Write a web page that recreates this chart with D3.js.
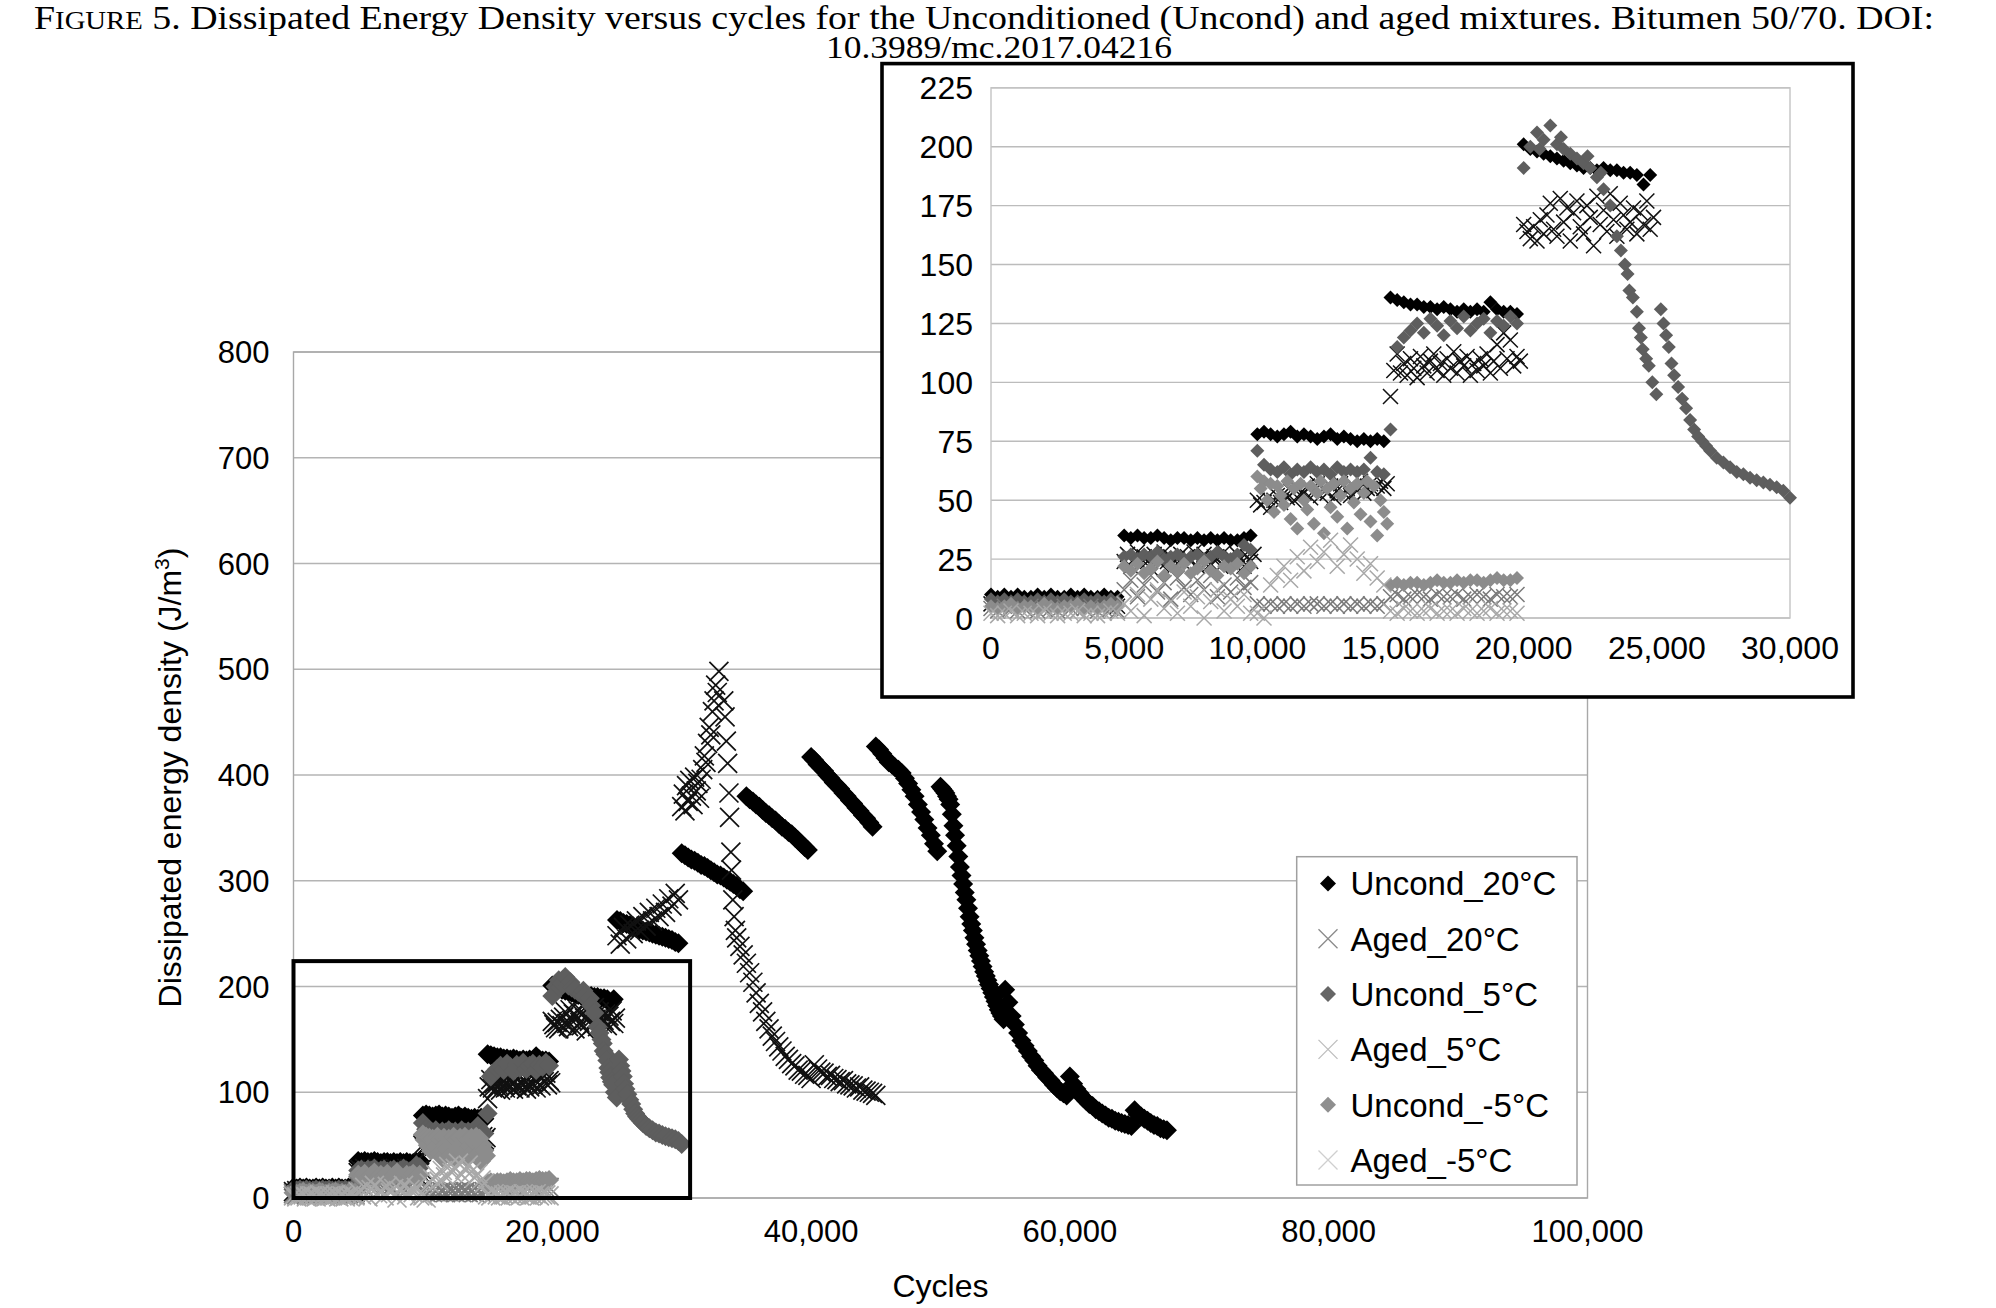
<!DOCTYPE html>
<html><head><meta charset="utf-8">
<script src="https://cdn.jsdelivr.net/npm/d3@7"></script>
<style>html,body{margin:0;padding:0;background:#fff;}svg{display:block;}</style>
</head><body>
<svg id="c" width="1996" height="1308"></svg>
<script>
// ================= DATA =================
const seriesNames = ["Uncond_20°C","Aged_20°C","Uncond_5°C","Aged_5°C","Uncond_-5°C","Aged_-5°C"];
const seriesMarkers = ["diamond","x","diamond","x","diamond","x"];
const mainXTicks = [0,20000,40000,60000,80000,100000];
const mainYTicks = [0,100,200,300,400,500,600,700,800];
const insetXTicks = [0,5000,10000,15000,20000,25000,30000];
const insetYTicks = [0,25,50,75,100,125,150,175,200,225];
const mainXDomain = [0,100000], mainYDomain = [0,800];
const insetXDomain = [0,30000], insetYDomain = [0,225];
const zoomBox = [[0,0],[30650,224]];
const titleLine1 = ["F","IGURE"," 5. Dissipated Energy Density versus cycles for the Unconditioned (Uncond) and aged mixtures. Bitumen 50/70. DOI:"];
const titleLine2 = "10.3989/mc.2017.04216";
const xTitle = "Cycles";
const yTitle = ["Dissipated energy density (J/m","3",")"];

// blocks: [startCycle, stepCycles, values]; pairs: [cycles, value]
const uncond20Blocks = [
 [0,250,[10,9,10,9,10,9,9,10,9,10,9,9,10,9,10,9,9,10,9,9]],
 [5000,250,[35,34,35,34,34,35,34,33,34,34,33,34,33,34,33,34,33,33,34,35]],
 [10000,250,[78,79,78,77,78,79,77,78,77,76,77,78,76,77,76,75,76,75,76,75]],
 [15000,250,[136,135,134,133,133,132,132,131,132,131,130,131,130,131,130,134,131,130,130,129]],
 [20000,250,[201,199,198,197,196,195,194,193,192,191,191,190,191,190,190,189,189,188,184,188]],
 [25000,250,[263,262,260,259,258,257,255,254,253,252,251,250,249,248,247,246,245,244,242,241]],
 [30000,250,[326,324,322,320,319,317,315,314,312,310,308,306,305,303,301,299,297,295,292,290]],
 [35000,250,[380,377,375,372,370,367,364,362,359,357,354,351,349,346,344,341,338,335,332,329]],
 [40000,250,[417,414,410,407,404,400,397,393,390,387,383,380,376,373,369,366,362,359,355,351]],
 [45000,250,[427,424,420,416,412,410,407,405,402,397,392,386,380,372,365,358,350,343,335,328]],
 [50000,125,[389,387,385,383,380,377,372,363,352,343,333,323,313,305,297,289,282,274,266,259,
             253,246,240,234,229,224,219,214,210,206,202,198,194,190,186,182,178,175,172,169]],
 [55000,250,[197,185,172,164,156,149,144,139,134,130,125,121,118,114,111,107,104,101,99,97,
             115,108,103,99,95,92,89,87,84,82,80,78,76,75,73,72,71,70,69,68,
             83,79,77,75,73,71,69,68,66,65,64]]
];
const uncond20Pairs = [];

const aged20Blocks = [
 [0,250,[6,7,6,5,7,6,6,7,5,6,7,6,6,5,7,6,6,7,6,5]],
 [5000,125,[24,27,22,25,28,23,26,24,21,27,25,23,28,24,26,22,25,27,23,26,24,28,22,25,27,24,23,26,25,22,28,24,26,23,27,25,22,26,24,27]],
 [10000,125,[50,48,49,51,47,50,52,49,53,51,54,50,55,52,53,56,51,54,57,52,55,53,56,51,54,57,53,55,52,56,54,58,53,55,57,54,56,58,55,57]],
 [15000,125,[94,105,112,104,108,103,110,106,102,111,107,104,109,112,105,108,103,110,106,113,104,109,107,111,103,108,105,110,107,112,104,109,116,106,121,110,118,107,111,109]],
 [20000,125,[167,164,161,166,160,169,163,171,176,165,162,178,168,174,160,172,177,166,163,175,170,158,179,167,173,164,180,169,162,176,171,165,168,174,163,172,167,177,165,170]],
 [25000,250,[248,240,256,245,258,250,262,253,266,257,270,262,274,266,278,270,283,276,288,282]],
 [30000,125,[370,382,366,390,375,395,380,372,398,385,392,378,396,405,418,412,430,445,438,460,470,485,478,498]],
 [34250,250,[246,238,230,222,213,204,194,184,176,167,160,153,148,143,139,134,131,127,125,121,120,117,116,113,126,122,119,118,115,116,113,112,110,111,108,107,106,104,105,102,101,100,99,97]]
];
const aged20Pairs = [[33250,470],[33350,455],[33450,432],[33550,411],[33650,383],[33700,360],[33800,327],[33850,310],[33950,282],[34050,266],[34150,253]];

const uncond5Blocks = [
 [0,250,[8,7,8,7,8,7,7,8,7,8,7,8,7,7,8,7,8,7,8,7]],
 [5000,250,[26,27,25,27,26,28,25,26,27,25,26,27,25,26,28,26,25,27,31,29]],
 [10000,250,[71,65,63,62,64,61,63,62,64,62,63,61,64,62,63,62,63,68,62,61]],
 [15000,250,[80,115,119,122,125,121,127,124,120,126,123,128,122,125,127,121,126,124,128,125]]
];
const uncond5Pairs = [[20000,191],[20250,200],[20500,206],[20600,199],[20750,203],[21000,209],[21250,201],[21400,204],[21500,199],[21750,197],[22000,195],[22250,193],[22400,196],[22500,191],[22750,187],[22900,189],[23000,182],[23250,175],[23500,162],[23650,156],[23800,150],[23900,146],[23970,139],[24100,136],[24250,130],[24330,123],[24400,119],[24470,114],[24600,110],[24700,107],[24830,100],[24980,95],
 [25150,131],[25250,125],[25350,120],[25450,115],[25550,108],[25650,103],[25800,98],[25950,93],[26100,89],[26250,84],[26400,80],[26550,77],[26700,75],[26850,73],[27000,71],[27250,68],[27500,66],[27750,64],[28000,62],[28250,61],[28500,59.5],[28750,58.5],[29000,57.5],[29250,56.5],[29500,55.5],[29750,54],[30000,51]];

const aged5Blocks = [
 [0,250,[4,3,5,4,3,4,5,3,4,4,3,5,4,3,4,5,3,4,4,3]],
 [5000,250,[12,16,9,14,18,11,15,8,17,13,10,16,12,18,9,14,11,17,13,15]],
 [10000,250,[6,5,6,5,6,5,6,5,6,6,5,6,5,6,5,6,5,6,5,6]],
 [15000,250,[9,10,8,9,10,9,8,10,9,9,10,8,9,10,9,8,10,9,9,10]]
];
const aged5Pairs = [];

const uncondM5Blocks = [
 [0,250,[5,4,5,6,4,5,5,4,6,5,4,5,5,6,4,5,4,5,6,5]],
 [5000,250,[22,20,23,19,21,24,18,22,20,23,19,21,24,20,18,22,21,23,19,22]],
 [10000,125,[60,55,58,50,57,45,56,52,48,58,42,55,38,57,50,46,56,40,53,58,36,55,47,57,43,52,58,38,55,49,57,44,53,58,41,56,35,50,45,40]],
 [15000,250,[14,15,14,15,15,14,15,16,15,15,16,15,16,16,15,16,17,16,16,17]]
];
const uncondM5Pairs = [];

const agedM5Blocks = [
 [0,250,[2,1,2,3,1,2,2,1,3,2,1,2,2,3,1,2,1,2,3,2]],
 [5000,250,[6,3,10,1,8,12,4,7,2,11,5,9,0,7,12,3,8,5,10,2]],
 [10000,250,[2,0,14,18,22,16,26,20,30,24,28,33,22,27,31,25,19,23,17,14]],
 [15000,250,[3,2,4,3,2,3,4,2,3,3,2,4,3,2,3,4,2,3,3,2]]
];
const agedM5Pairs = [];

// ================= STYLE =================
const chartColors  = ["#000000","#111111","#5e5e5e","#7a7a7a","#8c8c8c","#a8a8a8"];
const legendColors = ["#000000","#8a8a8a","#666666","#bdbdbd","#8f8f8f","#cfcfcf"];
const SANS = "'Liberation Sans', Arial, Helvetica, sans-serif";
const SERIF = "'Liberation Serif', 'Times New Roman', serif";

function expand(blocks, pairs){
  const pts = [];
  blocks.forEach(([x0, step, vals]) => vals.forEach((v,i) => pts.push([x0 + i*step, v])));
  pairs.forEach(p => pts.push(p));
  return pts.sort((a,b)=>a[0]-b[0]);
}
const seriesData = [
  expand(uncond20Blocks, uncond20Pairs),
  expand(aged20Blocks, aged20Pairs),
  expand(uncond5Blocks, uncond5Pairs),
  expand(aged5Blocks, aged5Pairs),
  expand(uncondM5Blocks, uncondM5Pairs),
  expand(agedM5Blocks, agedM5Pairs)
];

function markerPath(type, h){
  if(type==="diamond") return `M0,${-h}L${h},0L0,${h}L${-h},0Z`;
  return `M${-h},${-h}L${h},${h}M${-h},${h}L${h},${-h}`;
}

const svg = d3.select("#c");
svg.append("rect").attr("width",1996).attr("height",1308).attr("fill","#fff");

// ================= MAIN CHART =================
const xM = d3.scaleLinear().domain(mainXDomain).range([293.5,1587.5]);
const yM = d3.scaleLinear().domain(mainYDomain).range([1198,352]);
const gM = svg.append("g");

gM.selectAll("line.grid").data(mainYTicks).join("line")
  .attr("x1",xM(mainXDomain[0])).attr("x2",xM(mainXDomain[1]))
  .attr("y1",d=>yM(d)).attr("y2",d=>yM(d))
  .attr("stroke","#b4b4b4").attr("stroke-width",1.4);
gM.append("rect")
  .attr("x",xM(mainXDomain[0])).attr("y",yM(mainYDomain[1]))
  .attr("width",xM(mainXDomain[1])-xM(mainXDomain[0]))
  .attr("height",yM(mainYDomain[0])-yM(mainYDomain[1]))
  .attr("fill","none").attr("stroke","#a8a8a8").attr("stroke-width",1.4);

gM.selectAll("text.yt").data(mainYTicks).join("text")
  .attr("x",xM(0)-24).attr("y",d=>yM(d)).attr("dy","0.36em")
  .attr("text-anchor","end").attr("font-family",SANS).attr("font-size",31)
  .attr("fill","#000").text(d=>d3.format(",")(d));
gM.selectAll("text.xt").data(mainXTicks).join("text")
  .attr("x",d=>xM(d)).attr("y",yM(0)+44)
  .attr("text-anchor","middle").attr("font-family",SANS).attr("font-size",31)
  .attr("fill","#000").text(d=>d3.format(",")(d));

seriesData.forEach((pts, si) => {
  const type = seriesMarkers[si];
  const g = gM.append("g");
  const sel = g.selectAll("path").data(pts).join("path")
    .attr("transform", d => `translate(${xM(d[0])},${yM(d[1])})`)
    .attr("d", markerPath(type, type==="diamond" ? 10 : 9.5));
  if(type==="diamond") sel.attr("fill",chartColors[si]);
  else sel.attr("fill","none").attr("stroke",chartColors[si]).attr("stroke-width",1.7);
});

// zoom box
gM.append("rect")
  .attr("x",xM(zoomBox[0][0])).attr("y",yM(zoomBox[1][1]))
  .attr("width",xM(zoomBox[1][0])-xM(zoomBox[0][0]))
  .attr("height",yM(zoomBox[0][1])-yM(zoomBox[1][1]))
  .attr("fill","none").attr("stroke","#000").attr("stroke-width",4);

// axis titles
gM.append("text").attr("x",940.5).attr("y",1297).attr("text-anchor","middle")
  .attr("font-family",SANS).attr("font-size",32).attr("fill","#000").text(xTitle);
const yt = gM.append("text").attr("transform","translate(181,777.5) rotate(-90)")
  .attr("text-anchor","middle").attr("font-family",SANS).attr("font-size",32).attr("fill","#000");
yt.append("tspan").text(yTitle[0]);
yt.append("tspan").attr("dy",-12).attr("font-size",21).text(yTitle[1]);
yt.append("tspan").attr("dy",12).text(yTitle[2]);

// legend
const lg = gM.append("g");
lg.append("rect").attr("x",1296.7).attr("y",856.7).attr("width",280.3).attr("height",328.3)
  .attr("fill","#fff").attr("stroke","#a0a0a0").attr("stroke-width",1.5);
seriesNames.forEach((name, i) => {
  const cy = 883.5 + i*55.3;
  const type = seriesMarkers[i];
  const p = lg.append("path").attr("transform",`translate(1328,${cy})`)
    .attr("d", markerPath(type, type==="diamond" ? 8 : 9.5));
  if(type==="diamond") p.attr("fill",legendColors[i]);
  else p.attr("fill","none").attr("stroke",legendColors[i]).attr("stroke-width",1.3);
  lg.append("text").attr("x",1350.5).attr("y",cy).attr("dy","0.36em")
    .attr("font-family",SANS).attr("font-size",33).attr("fill","#000").text(name);
});

// ================= INSET =================
const xI = d3.scaleLinear().domain(insetXDomain).range([991,1790]);
const yI = d3.scaleLinear().domain(insetYDomain).range([618,87.8]);
const gI = svg.append("g");
gI.append("rect").attr("x",882).attr("y",63.6).attr("width",971).attr("height",633.4)
  .attr("fill","#fff").attr("stroke","#000").attr("stroke-width",3.6);
gI.selectAll("line.grid").data(insetYTicks).join("line")
  .attr("x1",xI(insetXDomain[0])).attr("x2",xI(insetXDomain[1]))
  .attr("y1",d=>yI(d)).attr("y2",d=>yI(d))
  .attr("stroke","#bcbcbc").attr("stroke-width",1.4);
gI.append("rect")
  .attr("x",xI(insetXDomain[0])).attr("y",yI(insetYDomain[1]))
  .attr("width",xI(insetXDomain[1])-xI(insetXDomain[0]))
  .attr("height",yI(insetYDomain[0])-yI(insetYDomain[1]))
  .attr("fill","none").attr("stroke","#c4c4c4").attr("stroke-width",1.4);
gI.selectAll("text.yt").data(insetYTicks).join("text")
  .attr("x",xI(0)-18).attr("y",d=>yI(d)).attr("dy","0.36em")
  .attr("text-anchor","end").attr("font-family",SANS).attr("font-size",32)
  .attr("fill","#000").text(d=>d3.format(",")(d));
gI.selectAll("text.xt").data(insetXTicks).join("text")
  .attr("x",d=>xI(d)).attr("y",yI(0)+41)
  .attr("text-anchor","middle").attr("font-family",SANS).attr("font-size",32)
  .attr("fill","#000").text(d=>d3.format(",")(d));

seriesData.forEach((pts, si) => {
  const type = seriesMarkers[si];
  const vis = pts.filter(d => d[0] <= insetXDomain[1] && d[1] <= insetYDomain[1]);
  const g = gI.append("g");
  const sel = g.selectAll("path").data(vis).join("path")
    .attr("transform", d => `translate(${xI(d[0])},${yI(d[1])})`)
    .attr("d", markerPath(type, type==="diamond" ? 7 : 7.5));
  if(type==="diamond") sel.attr("fill",chartColors[si]);
  else sel.attr("fill","none").attr("stroke",chartColors[si]).attr("stroke-width",1.5);
});

// ================= TITLE =================
const t1 = svg.append("text").attr("x",34).attr("y",29)
  .attr("font-family",SERIF).attr("font-size",33).attr("fill","#000")
  .attr("textLength",1900).attr("lengthAdjust","spacingAndGlyphs");
t1.append("tspan").text(titleLine1[0]);
t1.append("tspan").attr("font-size",25).text(titleLine1[1]);
t1.append("tspan").text(titleLine1[2]);
svg.append("text").attr("x",999).attr("y",58).attr("text-anchor","middle")
  .attr("font-family",SERIF).attr("font-size",32).attr("fill","#000")
  .attr("textLength",346).attr("lengthAdjust","spacingAndGlyphs").text(titleLine2);
</script>
</body></html>
